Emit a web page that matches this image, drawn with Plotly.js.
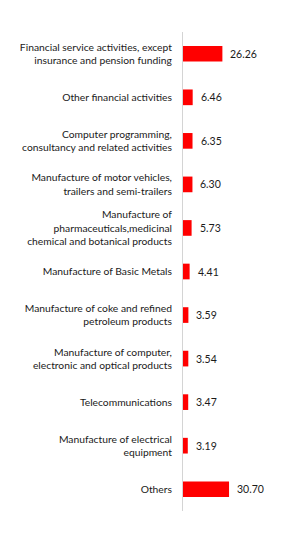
<!DOCTYPE html>
<html>
<head>
<meta charset="utf-8">
<script src="https://cdn.plot.ly/plotly-3.0.1.min.js"></script>
<style>
  html, body { margin: 0; padding: 0; background: #ffffff; }
  #chart { width: 296px; height: 534px; }
</style>
</head>
<body>
<div id="chart"></div>
<script>
// Sectors, listed top to bottom
const categories = [
  "Financial service activities, except<br>insurance and pension funding",
  "Other financial activities",
  "Computer programming,<br>consultancy and related activities",
  "Manufacture of motor vehicles,<br>trailers and semi-trailers",
  "Manufacture of<br>pharmaceuticals,medicinal<br>chemical and botanical products",
  "Manufacture of Basic Metals",
  "Manufacture of coke and refined<br>petroleum products",
  "Manufacture of computer,<br>electronic and optical products",
  "Telecommunications",
  "Manufacture of electrical<br>equipment",
  "Others"
];

// Share of each sector (%)
const shares = [26.26, 6.46, 6.35, 6.30, 5.73, 4.41, 3.59, 3.54, 3.47, 3.19, 30.70];

const FONT = "Lato, 'Noto Sans', sans-serif";

const trace = {
  type: "bar",
  orientation: "h",
  x: shares,
  y: categories,
  marker: { color: "#ff0000" },
  hoverinfo: "none"
};

// Value labels placed just right of each bar end
const annotations = shares.map((v, i) => ({
  x: v,
  y: categories[i],
  xref: "x",
  yref: "y",
  text: v.toFixed(2),
  showarrow: false,
  xanchor: "left",
  xshift: 6,
  font: { family: FONT, size: 10.5, color: "#1a1a1a" }
}));

const layout = {
  width: 296,
  height: 534,
  margin: { l: 183, r: 53, t: 32, b: 23 },
  paper_bgcolor: "#ffffff",
  plot_bgcolor: "#ffffff",
  showlegend: false,
  bargap: 0.64,
  xaxis: {
    range: [0, 40],
    showgrid: false,
    zeroline: false,
    showline: false,
    showticklabels: false,
    ticks: ""
  },
  yaxis: {
    type: "category",
    autorange: "reversed",
    showgrid: false,
    zeroline: false,
    showline: true,
    linecolor: "#d4d4d4",
    linewidth: 1,
    ticks: "",
    ticklabelstandoff: 8,
    tickfont: { family: FONT, size: 10.3, color: "#1a1a1a" }
  },
  annotations: annotations
};

Plotly.newPlot("chart", [trace], layout, { displayModeBar: false, staticPlot: true });
</script>
</body>
</html>
